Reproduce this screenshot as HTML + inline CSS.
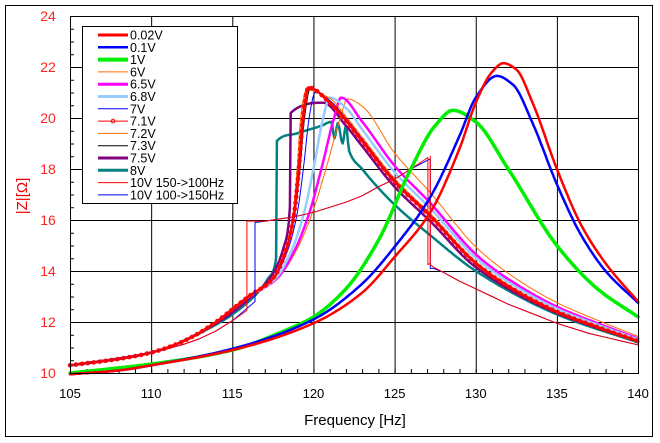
<!DOCTYPE html>
<html><head><meta charset="utf-8"><style>
html,body{margin:0;padding:0;background:#fff;}
svg{display:block;font-family:"Liberation Sans","DejaVu Sans",sans-serif;}
</style></head><body>
<svg id="s" width="660" height="443" viewBox="0 0 660 443" xmlns="http://www.w3.org/2000/svg">
<rect x="0" y="0" width="660" height="443" fill="#fff"/>
<rect x="5.5" y="5.5" width="647" height="431" fill="none" stroke="#000" stroke-width="1"/>
<g id="grid" stroke="#000" stroke-width="1" fill="none"></g>
<g id="curves" fill="none" stroke-linejoin="round" stroke-linecap="round"></g>
<rect x="70.5" y="16.5" width="568" height="357" fill="none" stroke="#000" stroke-width="1"/>
<g id="labels" font-size="13"></g>
<text x="355" y="425" font-size="15" text-anchor="middle" fill="#000">Frequency [Hz]</text>
<text transform="translate(27,196) rotate(-90)" font-size="15" text-anchor="middle" fill="#e00">|Z|[Ω]</text>
<g id="legend"></g>
</svg>
<script>
const NS="http://www.w3.org/2000/svg";
const X=f=>70+(f-105)*16.23, Y=z=>373-(z-10)*25.5;
function el(p,t,a,txt){const e=document.createElementNS(NS,t);for(const k in a)e.setAttribute(k,a[k]);if(txt!==undefined)e.textContent=txt;p.appendChild(e);return e;}
const g=document.getElementById('grid'),lab=document.getElementById('labels');
for(let f=110;f<140;f+=5)el(g,'line',{x1:X(f)+.5,x2:X(f)+.5,y1:16,y2:373});
for(let z=12;z<24;z+=2)el(g,'line',{x1:70,x2:638,y1:Y(z)+.5,y2:Y(z)+.5});
for(let f=106;f<140;f++)el(g,'line',{x1:X(f)+.5,x2:X(f)+.5,y1:373,y2:369});
for(let z=10.5;z<24;z+=0.5)el(g,'line',{x1:70,x2:74,y1:Y(z)+.5,y2:Y(z)+.5});
for(let f=105;f<=140;f+=5)el(lab,'text',{x:X(f),y:398,'text-anchor':'middle',fill:'#000'},String(f));
for(let z=10;z<=24;z+=2)el(lab,'text',{x:48,y:Y(z)+5,'text-anchor':'middle',fill:'#f22','font-size':14},String(z));
function mono(seg){const n=seg.length;if(n<3)return seg;const xs=seg.map(p=>p[0]),ys=seg.map(p=>p[1]);
 const d=[],m=[];for(let i=0;i<n-1;i++)d.push((ys[i+1]-ys[i])/(xs[i+1]-xs[i]));
 m[0]=d[0];m[n-1]=d[n-2];
 for(let i=1;i<n-1;i++){if(d[i-1]*d[i]>0){const h0=xs[i]-xs[i-1],h1=xs[i+1]-xs[i];const w1=2*h1+h0,w2=h1+2*h0;m[i]=(w1+w2)/(w1/d[i-1]+w2/d[i]);}else m[i]=0;}
 const out=[];for(let i=0;i<n-1;i++){const h=xs[i+1]-xs[i];const N=Math.max(2,Math.ceil(h/0.08));
  for(let k=0;k<N;k++){const t=k/N,t2=t*t,t3=t2*t;
   const y=(2*t3-3*t2+1)*ys[i]+(t3-2*t2+t)*h*m[i]+(-2*t3+3*t2)*ys[i+1]+(t3-t2)*h*m[i+1];out.push([xs[i]+t*h,y]);}}
 out.push(seg[n-1]);return out;}
function path(pts){let segs=[[pts[0]]];for(let i=1;i<pts.length;i++){if(Math.abs(pts[i][0]-pts[i-1][0])<0.02)segs.push([pts[i]]);else segs[segs.length-1].push(pts[i]);}
 let d='';segs.forEach((s,j)=>{const q=mono(s);q.forEach((p,i)=>{d+=((i==0&&j==0)?'M':'L')+X(p[0]).toFixed(1)+' '+Y(p[1]).toFixed(1)+' ';});});return d;}
function poly(pts){return pts.map((p,i)=>(i?'L':'M')+X(p[0]).toFixed(1)+' '+Y(p[1]).toFixed(1)).join(' ');}
const C=document.getElementById('curves');
function draw(pts,col,w){return el(C,'path',{d:path(pts),stroke:col,'stroke-width':w});}
const LB=[[105,10.3],[108,10.55],[110,10.8],[112,11.25],[114,12.0],[115,12.5]];
const RISE=[[116,13.0],[117.5,13.7],[118.3,14.8],[118.8,16.2],[119.1,18.0],[119.35,20.0]];
const RB=[[121,20.6],[122,19.9],[123,19.1],[125,17.5],[127.2,16.15],[130,14.3],[132,13.4],[135,12.4],[137.5,11.8],[140,11.25]];
function nl(s,pz,ds){const fp=119.7+s;let pts=LB.slice();
 RISE.forEach(p=>pts.push([p[0]+s*Math.max(0,p[1]-12.8)/7.5,p[1]]));pts.push([fp,pz]);
 RB.forEach(p=>{if(p[0]>fp+0.7)pts.push([p[0],p[1]+ds*(p[1]-10)/6]);});return pts;}
draw([[105,10.3],[110,10.8],[114,11.9],[116,12.8],[117.2,13.7],[117.7,14.5],[117.75,19.1],[119,19.4],[120.5,19.7],[121.1,19.85],[121.3,19.2],[121.5,19.8],[121.8,19.0],[122.0,19.7],[122.2,18.7],[123,18.0],[125,16.6],[127.2,15.4],[130,14.0],[135,12.3],[140,11.2]],'#008080',2.5);
draw([[105,10.3],[110,10.8],[114,11.95],[116,12.9],[117.3,13.7],[118.2,15.0],[118.55,16.5],[118.6,20.2],[120.6,20.6],[122,19.7],[123,18.9],[125,17.3],[127.2,15.95],[130,14.15],[135,12.35],[140,11.25]],'#800080',2.5);
draw(nl(2.4,20.75,0.9),'#ff6a00',1);
draw(nl(2.0,20.8,0.5),'#ff00ff',2.5);
draw(nl(1.3,20.8,0.3),'#99ccff',2.5);
draw(nl(0.4,21.0,0.05),'#0000ff',1);
draw(nl(-0.15,21.1,0.1),'#ff6a00',1);
draw(nl(0.1,21.15,0),'#000',1);
draw(nl(0,21.2,0),'#ff0000',2.5);
(function(){const p=C.lastChild,L=p.getTotalLength();for(let l=0;l<L;l+=6){const q=p.getPointAtLength(l);el(C,'circle',{cx:q.x,cy:q.y,r:1.8,stroke:'#f00','stroke-width':1,fill:'none'});}})();
// 10V sweeps (explicit polylines)
const up=[[117,15.95],[118,16.05],[119,16.15],[120,16.3],[121,16.5],[122,16.7],[123,16.95],[124,17.3],[125,17.6],[126,18.0]];
const lo=[[128,13.95],[129,13.6],[130,13.3],[131,13.0],[132,12.7],[133,12.45],[134,12.2],[135,11.95],[136,11.75],[137,11.55],[138,11.4],[139,11.25],[140,11.1]];
const leftA=[[105,10.3],[106,10.38],[107,10.47],[108,10.57],[109,10.68],[110,10.8],[111,10.95],[112,11.12],[113,11.35],[114,11.65],[115,12.05]];
el(C,'path',{d:poly(leftA.concat([[116.4,12.8],[116.4,15.9]],up,[[127.2,18.4],[127.2,14.1],[127.4,14.1]],lo)),stroke:'#0000ff','stroke-width':1});
el(C,'path',{d:poly(leftA.concat([[115.9,12.45],[115.9,15.96]],up,[[127.05,18.45],[127.05,14.25],[127.2,14.3],[127.2,18.5],[127.2,14.25],[127.4,14.15]],lo)),stroke:'#ff0000','stroke-width':1});
draw([[105,10.0],[108,10.2],[110,10.35],[115,10.9],[118,11.6],[120,12.2],[122,13.3],[124,15.2],[126,18.0],[127.5,19.7],[128.6,20.3],[130,19.85],[132,18.0],[135,15.0],[137.5,13.3],[140,12.2]],'#00ee00',3.5);
draw([[105,9.95],[108,10.1],[110,10.3],[115,10.95],[120,12.1],[123,13.5],[125,14.95],[127.2,16.9],[129,19.3],[130,20.8],[131.3,21.65],[132.3,21.3],[133.5,19.8],[135,17.4],[136.5,15.4],[138,14.0],[140,12.75]],'#0000ff',2.5);
draw([[105,9.95],[108,10.1],[110,10.3],[115,10.9],[120,11.95],[123,13.15],[125,14.55],[127.2,16.3],[129,18.8],[130,20.6],[131,21.8],[131.7,22.15],[132.5,21.9],[133.5,20.6],[135,18.0],[136.5,15.8],[138,14.3],[140,12.8]],'#ff0000',2.5);
const Lg=document.getElementById('legend');
el(Lg,'rect',{x:82.5,y:26.5,width:155,height:177,fill:'#fff',stroke:'#000','stroke-width':1});
const items=[['0.02V','#f00',3],['0.1V','#00f',2.5],['1V','#0e0',4],['6V','#ff6a00',1],['6.5V','#f0f',3],['6.8V','#9cf',3],['7V','#00f',1],['7.1V','#f00',1,1],['7.2V','#ff6a00',1],['7.3V','#000',1],['7.5V','#800080',3],['8V','#008080',3],['10V 150->100Hz','#f00',1],['10V 100->150Hz','#00f',1]];
items.forEach((it,i)=>{const y=35+i*12.3;el(Lg,'line',{x1:98,x2:128,y1:y,y2:y,stroke:it[1],'stroke-width':it[2]});
 if(it[3])el(Lg,'circle',{cx:113,cy:y,r:1.8,fill:'none',stroke:'#f00'});
 el(Lg,'text',{x:130,y:y+4.5,'font-size':12.5,fill:'#000'},it[0]);});
</script>
</body></html>
